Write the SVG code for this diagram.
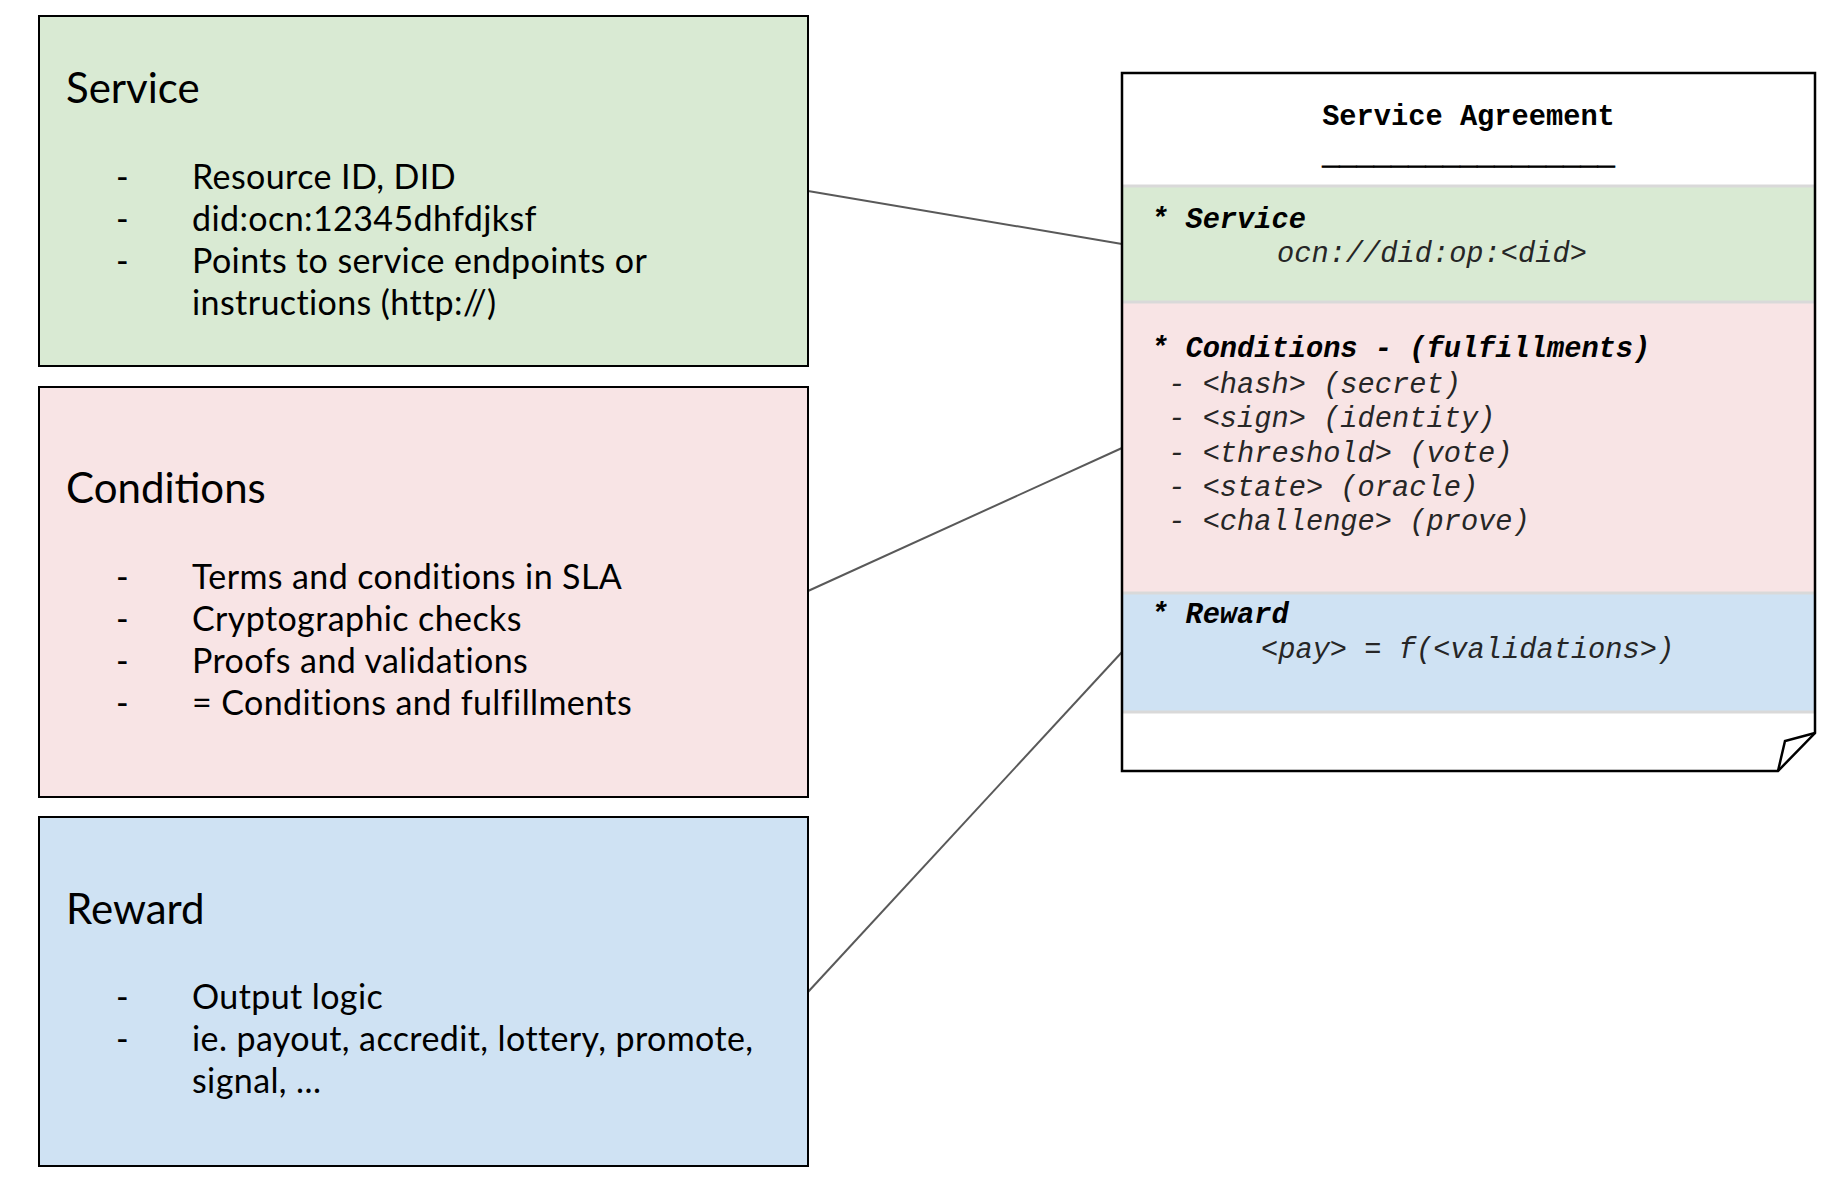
<svg xmlns="http://www.w3.org/2000/svg" width="1826" height="1190" viewBox="0 0 1826 1190">
<style>
.box{stroke:#000;stroke-width:2}
.g{fill:#d9ead3}.p{fill:#f8e4e5}.b{fill:#cfe2f3}
.ttl{font-family:Lato,"Open Sans",sans-serif;font-size:42px;fill:#000}
.bl{font-family:Lato,"Open Sans",sans-serif;font-size:34px;letter-spacing:0.4px;fill:#000}
.mono{font-family:"Liberation Mono","Courier New",monospace;font-size:28.7px}
.hb{font-weight:bold;font-style:italic;fill:#000}
.it{font-style:italic;fill:#262626}
.sep{stroke:#d9d9d9;stroke-width:3}
.conn{stroke:#595959;stroke-width:2;fill:none}
</style>
<rect width="1826" height="1190" fill="#fff"/>
<g id="connectors">
<line class="conn" x1="808" y1="191" x2="1122" y2="244"/>
<line class="conn" x1="808" y1="591" x2="1122" y2="448"/>
<line class="conn" x1="808" y1="992" x2="1122" y2="652"/>
</g>
<g id="service">
<rect class="box g" x="39" y="16" width="769" height="350"/>
<text class="ttl" x="66" y="103">Service</text>
<g class="bl">
<text x="116" y="189">-</text><text x="192" y="189">Resource ID, DID</text>
<text x="116" y="231">-</text><text x="192" y="231">did:ocn:12345dhfdjksf</text>
<text x="116" y="273">-</text><text x="192" y="273">Points to service endpoints or</text>
<text x="192" y="315">instructions (http://)</text>
</g>
</g>
<g id="conditions">
<rect class="box p" x="39" y="387" width="769" height="410"/>
<text class="ttl" x="66" y="503">Conditions</text>
<g class="bl">
<text x="116" y="589">-</text><text x="192" y="589">Terms and conditions in SLA</text>
<text x="116" y="631">-</text><text x="192" y="631">Cryptographic checks</text>
<text x="116" y="673">-</text><text x="192" y="673">Proofs and validations</text>
<text x="116" y="715">-</text><text x="192" y="715">= Conditions and fulfillments</text>
</g>
</g>
<g id="reward">
<rect class="box b" x="39" y="817" width="769" height="349"/>
<text class="ttl" x="66" y="924">Reward</text>
<g class="bl">
<text x="116" y="1009">-</text><text x="192" y="1009">Output logic</text>
<text x="116" y="1051">-</text><text x="192" y="1051">ie. payout, accredit, lottery, promote,</text>
<text x="192" y="1093">signal, ...</text>
</g>
</g>
<g id="service-agreement">
<path d="M1122,73 H1815 V733 L1778,771 H1122 Z" fill="#fff"/>
<rect class="g" x="1123" y="186" width="691" height="116"/>
<rect class="p" x="1123" y="302" width="691" height="291"/>
<rect class="b" x="1123" y="593" width="691" height="119"/>
<line class="sep" x1="1123" y1="186" x2="1814" y2="186"/>
<line class="sep" x1="1123" y1="302" x2="1814" y2="302"/>
<line class="sep" x1="1123" y1="593" x2="1814" y2="593"/>
<line class="sep" x1="1123" y1="712" x2="1814" y2="712"/>
<path d="M1122,73 H1815 V733 L1778,771 H1122 Z" fill="none" stroke="#000" stroke-width="2.5" stroke-linejoin="miter"/>
<path d="M1815,733 L1785,741 L1778,771" fill="none" stroke="#000" stroke-width="2.5"/>
<g class="mono">
<text x="1468.5" y="125" text-anchor="middle" font-weight="bold" fill="#000">Service Agreement</text>
<text x="1468.5" y="164" text-anchor="middle" font-weight="bold" fill="#000" stroke="#000" stroke-width="1">_________________</text>
<text class="hb" x="1151" y="228">* Service</text>
<text class="it" x="1277" y="262">ocn://did:op:&lt;did&gt;</text>
<text class="hb" x="1151" y="357">* Conditions - (fulfillments)</text>
<text class="it" x="1151" y="393" xml:space="preserve"> - &lt;hash&gt; (secret)</text>
<text class="it" x="1151" y="427" xml:space="preserve"> - &lt;sign&gt; (identity)</text>
<text class="it" x="1151" y="462" xml:space="preserve"> - &lt;threshold&gt; (vote)</text>
<text class="it" x="1151" y="496" xml:space="preserve"> - &lt;state&gt; (oracle)</text>
<text class="it" x="1151" y="530" xml:space="preserve"> - &lt;challenge&gt; (prove)</text>
<text class="hb" x="1151" y="623">* Reward</text>
<text class="it" x="1261" y="658">&lt;pay&gt; = f(&lt;validations&gt;)</text>
</g>
</g>
</svg>
